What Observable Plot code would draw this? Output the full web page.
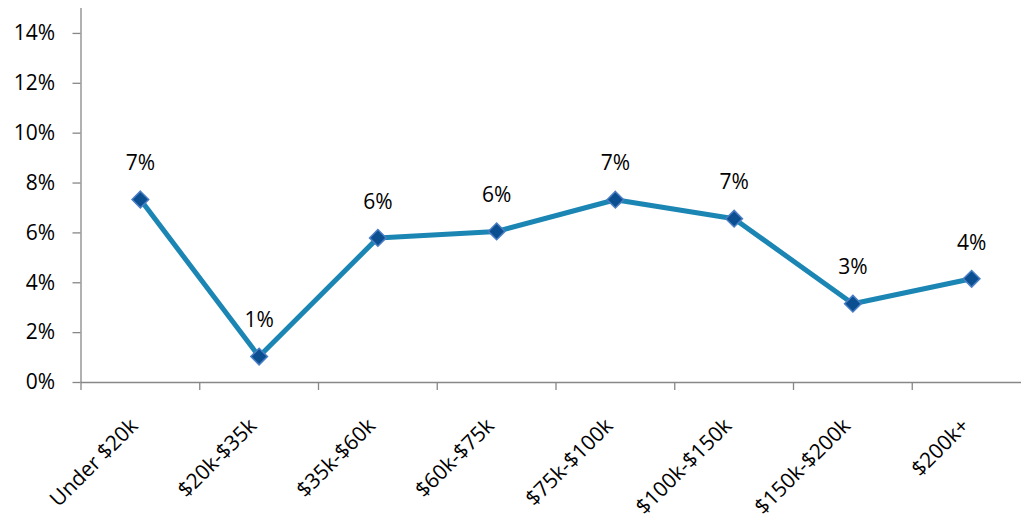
<!DOCTYPE html>
<html>
<head>
<meta charset="utf-8">
<script src="https://cdn.jsdelivr.net/npm/d3@7"></script>
<script src="https://cdn.jsdelivr.net/npm/@observablehq/plot@0.6"></script>
<style>
  html, body { margin: 0; padding: 0; background: #fff; overflow: hidden; }
</style>
</head>
<body>
<div id="chart"></div>
<script>
const categories = ["Under $20k", "$20k-$35k", "$35k-$60k", "$60k-$75k", "$75k-$100k", "$100k-$150k", "$150k-$200k", "$200k+"];
const values = [0.0734, 0.0104, 0.0580, 0.0606, 0.0733, 0.0657, 0.0316, 0.0416];
const yTicks = [0, 0.02, 0.04, 0.06, 0.08, 0.10, 0.12, 0.14];

const data = categories.map((c, i) => ({pos: i + 0.5, cat: c, v: values[i]}));
const boundaries = d3.range(0, categories.length + 1);
const centers = categories.map((c, i) => i + 0.5);
const pct = d => Math.round(d * 100) + "%";
const axisGrey = "#878787";

const chart = Plot.plot({
  width: 1021,
  height: 516,
  marginLeft: 80.5,
  marginRight: 0,
  marginTop: 8,
  marginBottom: 134,
  x: {type: "linear", domain: [0, categories.length], range: [80.5, 1030.5], axis: null, label: null},
  y: {domain: [0, 0.15], axis: null, label: null},
  style: {fontFamily: "'Open Sans', sans-serif", fontSize: "21px", color: "#000", background: "#fff", overflow: "hidden"},
  marks: [
    Plot.ruleX([0], {y1: 0, y2: 0.15, stroke: axisGrey, strokeWidth: 1.3}),
    Plot.ruleY([0], {stroke: axisGrey, strokeWidth: 1.3}),
    Plot.axisY(yTicks, {label: null, tickSize: 8, tickPadding: 18, tickFormat: pct, stroke: axisGrey, strokeWidth: 1.3, fontSize: 21}),
    Plot.axisX(boundaries, {label: null, tickSize: 8, tickFormat: () => "", stroke: axisGrey, strokeWidth: 1.3}),
    Plot.axisX(centers, {label: null, tickSize: 0, tickRotate: -45, tickPadding: 40, dx: -6, tickFormat: d => categories[Math.floor(d)], fontSize: 21}),
    Plot.line(data, {x: "pos", y: "v", stroke: "#1b86b4", strokeWidth: 5, strokeLinejoin: "round"}),
    Plot.dot(data, {x: "pos", y: "v", symbol: "diamond2", r: 7.5, fill: "#0b4f91", stroke: "#4a7ec4", strokeWidth: 1.5}),
    Plot.text(data, {x: "pos", y: "v", text: d => pct(d.v), dy: -36, fontSize: 21, fill: "#000"})
  ]
});
document.getElementById("chart").appendChild(chart);
</script>
</body>
</html>
